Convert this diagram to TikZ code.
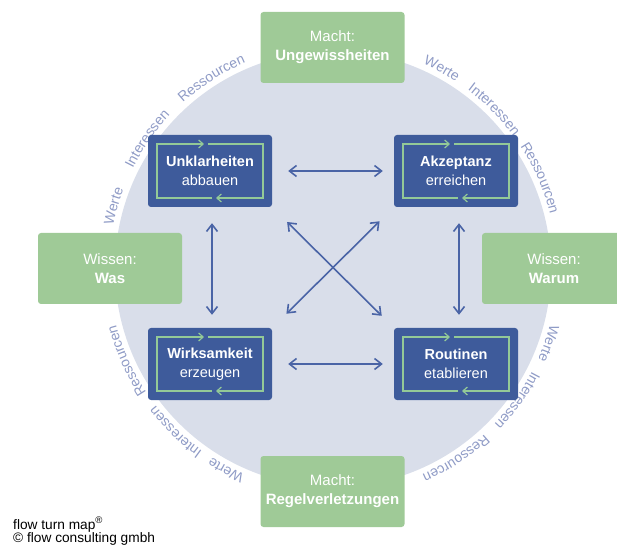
\documentclass[tikz,border=0pt]{standalone}
\usepackage{fontspec}
\setmainfont{Liberation Sans}
\usetikzlibrary{arrows.meta,decorations.text}
\definecolor{circ}{HTML}{D9DEEA}
\definecolor{grn}{HTML}{9FCA97}
\definecolor{blu}{HTML}{3E5B9B}
\definecolor{frm}{HTML}{93C997}
\definecolor{arr}{HTML}{4A64A6}
\definecolor{arcc}{HTML}{8F9BC6}
\newcommand\arcfont{\fontsize{14}{14}\selectfont}
\newcommand\arcword[2]{%
  \path[decorate,decoration={text along path,text={|\arcfont|#2},text align=center,text color=arcc}]
    ([shift={(#1+20:224)}]C) arc[start angle=#1+20,end angle=#1-20,radius=224];}
\newcommand\mybluebox[5]{%
  \node[bluebox] (#1) at (#2,#3) {\textbf{#4}\\#5};
  \draw[innerframe] ([shift={(2,-27)}]#1.center) -- ([shift={(-53,-27)}]#1.center)
     -- ([shift={(-53,27)}]#1.center) -- ([shift={(-6,27)}]#1.center);
  \draw[innerframe] ([shift={(-2,27)}]#1.center) -- ([shift={(53,27)}]#1.center)
     -- ([shift={(53,-27)}]#1.center) -- ([shift={(6,-27)}]#1.center);}
\tikzset{
  greenbox/.style={fill=grn, rounded corners=3pt, minimum width=144pt, minimum height=71pt,
    text=white, align=center, font=\fontsize{15}{19}\selectfont, inner sep=0pt},
  bluebox/.style={fill=blu, rounded corners=3pt, minimum width=124pt, minimum height=72pt,
    text=white, align=center, font=\fontsize{14.5}{19}\selectfont, inner sep=0pt},
  link/.style={draw=arr, line width=1.6pt,
    arrows={Straight Barb[length=7pt,width=11pt]-Straight Barb[length=7pt,width=11pt]}},
  innerframe/.style={draw=frm, line width=1.2pt, arrows={-Straight Barb[length=4.5pt,width=8pt]}},
  footer/.style={anchor=base west, inner sep=0pt, font=\fontsize{13.7}{14}\selectfont}
}
\begin{document}
\begin{tikzpicture}[x=1pt,y=1pt]
\useasboundingbox (0,0) rectangle (617,546);
\clip (0,0) rectangle (617,546);
\coordinate (C) at (333,277);
\fill[circ] (C) circle[radius=218];
% arc words
\arcword{164}{Werte}
\arcword{145}{Interessen}
\arcword{122.5}{Ressourcen}
\arcword{61.5}{Werte}
\arcword{44.7}{Interessen}
\arcword{23.7}{Ressourcen}
\arcword{-19}{Werte}
\arcword{-35.6}{Interessen}
\arcword{-57}{Ressourcen}
\arcword{242}{Werte}
\arcword{226}{Interessen}
\arcword{204}{Ressourcen}
% green boxes
\node[greenbox] (gT) at (332.5,498.5) {Macht:\\\textbf{Ungewissheiten}};
\node[greenbox] (gB) at (332.5,54.5) {Macht:\\\textbf{Regelverletzungen}};
\node[greenbox] (gL) at (110,277.5) {Wissen:\\\textbf{Was}};
\node[greenbox] (gR) at (554,277.5) {Wissen:\\\textbf{Warum}};
% blue boxes
\mybluebox{U}{210}{375}{Unklarheiten}{abbauen}
\mybluebox{A}{456}{375}{Akzeptanz}{erreichen}
\mybluebox{W}{210}{182}{Wirksamkeit}{erzeugen}
\mybluebox{R}{456}{182}{Routinen}{etablieren}
% connectors
\draw[link, shorten <=16pt, shorten >=11pt] (U.east) -- (A.west);
\draw[link, shorten <=16pt, shorten >=11pt] (W.east) -- (R.west);
\draw[link, shorten <=16pt, shorten >=13pt] ([xshift=2pt]U.south) -- ([xshift=2pt]W.north);
\draw[link, shorten <=16pt, shorten >=13pt] ([xshift=3pt]A.south) -- ([xshift=3pt]R.north);
\draw[link, shorten <=21pt, shorten >=17pt] (U.south east) -- (R.north west);
\draw[link, shorten <=20pt, shorten >=20pt] (A.south west) -- (W.north east);
% footer
\node[footer] (f1) at (13,17) {flow turn map\textsuperscript{®}};
\node[footer] (f2) at (13,3.3) {© flow consulting gmbh};
\end{tikzpicture}
\end{document}
